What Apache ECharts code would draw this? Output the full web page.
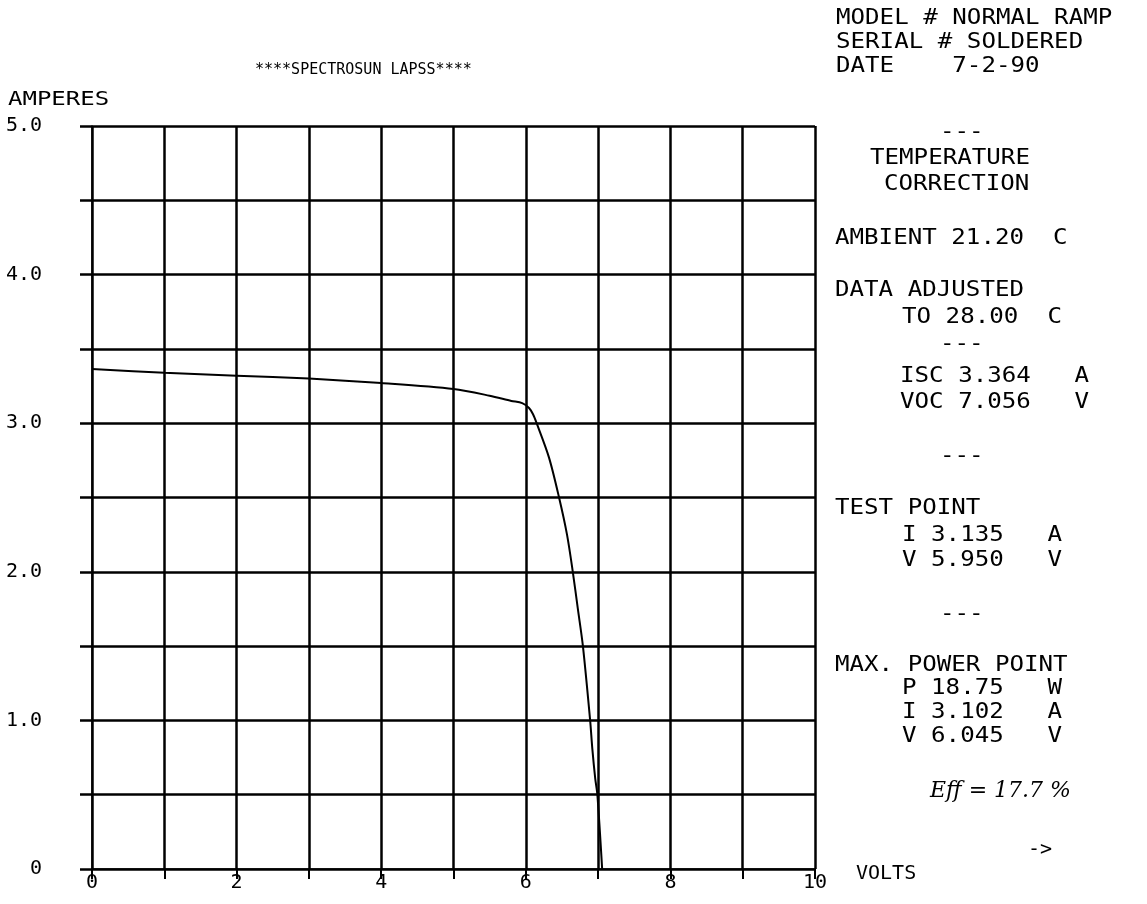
<!DOCTYPE html>
<html>
<head>
<meta charset="utf-8">
<script src="https://cdn.jsdelivr.net/npm/echarts@6/dist/echarts.min.js"></script>
<style>
html,body{margin:0;padding:0;background:#fff;}
#chart{width:1147px;height:904px;}
</style>
</head>
<body>
<div id="chart"></div>
<script>
// I-V curve data (volts, amperes)
const volts   = [0, 1, 2, 3, 4, 5, 5.5, 5.8, 5.95, 6.045, 6.1, 6.15, 6.32, 6.46, 6.57, 6.65, 6.72, 6.79, 6.89, 6.92, 6.96, 6.99, 7.056];
const amperes = [3.364, 3.34, 3.32, 3.30, 3.27, 3.23, 3.185, 3.15, 3.135, 3.102, 3.06, 3.0, 2.77, 2.5, 2.25, 2.0, 1.75, 1.5, 1.0, 0.81, 0.61, 0.5, 0];
const xTickLabels = ['0', '2', '4', '6', '8', '10'];
const yTickLabels = ['0', '1.0', '2.0', '3.0', '4.0', '5.0'];
const titleText = '****SPECTROSUN LAPSS****';
const headerLines = ['MODEL # NORMAL RAMP', 'SERIAL # SOLDERED', 'DATE    7-2-90'];
const infoLines = [
  ['---', 940, 132],
  ['TEMPERATURE', 870, 158],
  ['CORRECTION', 884, 184],
  ['AMBIENT 21.20  C', 835, 238],
  ['DATA ADJUSTED', 835, 290],
  ['TO 28.00  C', 902, 317],
  ['---', 940, 344],
  ['ISC 3.364   A', 900, 376],
  ['VOC 7.056   V', 900, 402],
  ['---', 940, 456],
  ['TEST POINT', 835, 508],
  ['I 3.135   A', 902, 535],
  ['V 5.950   V', 902, 560],
  ['---', 940, 614],
  ['MAX. POWER POINT', 835, 665],
  ['P 18.75   W', 902, 688],
  ['I 3.102   A', 902, 712],
  ['V 6.045   V', 902, 736]
];

const MONO = '"DejaVu Sans Mono", "Liberation Mono", monospace';
const chart = echarts.init(document.getElementById('chart'));

function txt(t, x, y, size, sx, extraFont) {
  return {
    type: 'text', x: x, y: y, scaleX: sx, scaleY: 1, originX: 0, originY: 0,
    style: {text: t, font: (extraFont || '') + size + 'px ' + MONO, fill: '#000', textVerticalAlign: 'top'}
  };
}

const graphics = [];
graphics.push(txt(titleText, 255, 63, 15, 1));
graphics.push(txt('AMPERES', 8, 90, 20, 1.2));
graphics.push(txt('VOLTS', 856, 864, 20, 1));
headerLines.forEach((t, i) => graphics.push(txt(t, 836, 8 + i * 24, 21, 1.15)));
infoLines.forEach(([t, x, y]) => graphics.push(txt(t, x, y - 10, 21, 1.15)));
graphics.push({type:'text', x: 930, y: 780, style:{text: 'Eff = 17.7 %', font: 'italic 22px "DejaVu Serif", serif', fill:'#000', textVerticalAlign: 'top'}});
graphics.push(txt('->', 1028, 840, 20, 1));

chart.setOption({
  animation: false,
  backgroundColor: '#fff',
  grid: {left: 92, right: 332, top: 126, bottom: 35},
  xAxis: {
    type: 'value', min: 0, max: 10, interval: 1,
    axisLine: {show: true, lineStyle: {color: '#000', width: 1.5}},
    axisTick: {show: true, length: 10, inside: false, lineStyle: {color: '#000', width: 2}},
    axisLabel: {
      margin: 4, color: '#000', fontFamily: MONO, fontSize: 20,
      formatter: v => (v % 2 === 0 ? xTickLabels[v / 2] : '')
    },
    splitLine: {show: true, lineStyle: {color: '#000', width: 2.5}}
  },
  yAxis: {
    type: 'value', min: 0, max: 5, interval: 0.5,
    axisLine: {show: true, lineStyle: {color: '#000', width: 1.5}},
    axisTick: {show: true, length: 12, lineStyle: {color: '#000', width: 2.5}},
    axisLabel: {
      margin: 50, color: '#000', fontFamily: MONO, fontSize: 20, align: 'right',
      formatter: v => (Math.abs(v - Math.round(v)) < 1e-9 ? yTickLabels[Math.round(v)] : '')
    },
    splitLine: {show: true, lineStyle: {color: '#000', width: 2.5}}
  },
  graphic: graphics,
  series: [{
    type: 'line',
    data: volts.map((v, i) => [v, amperes[i]]),
    showSymbol: false,
    smooth: 0.3,
    lineStyle: {color: '#000', width: 2}
  }]
});
</script>
</body>
</html>
